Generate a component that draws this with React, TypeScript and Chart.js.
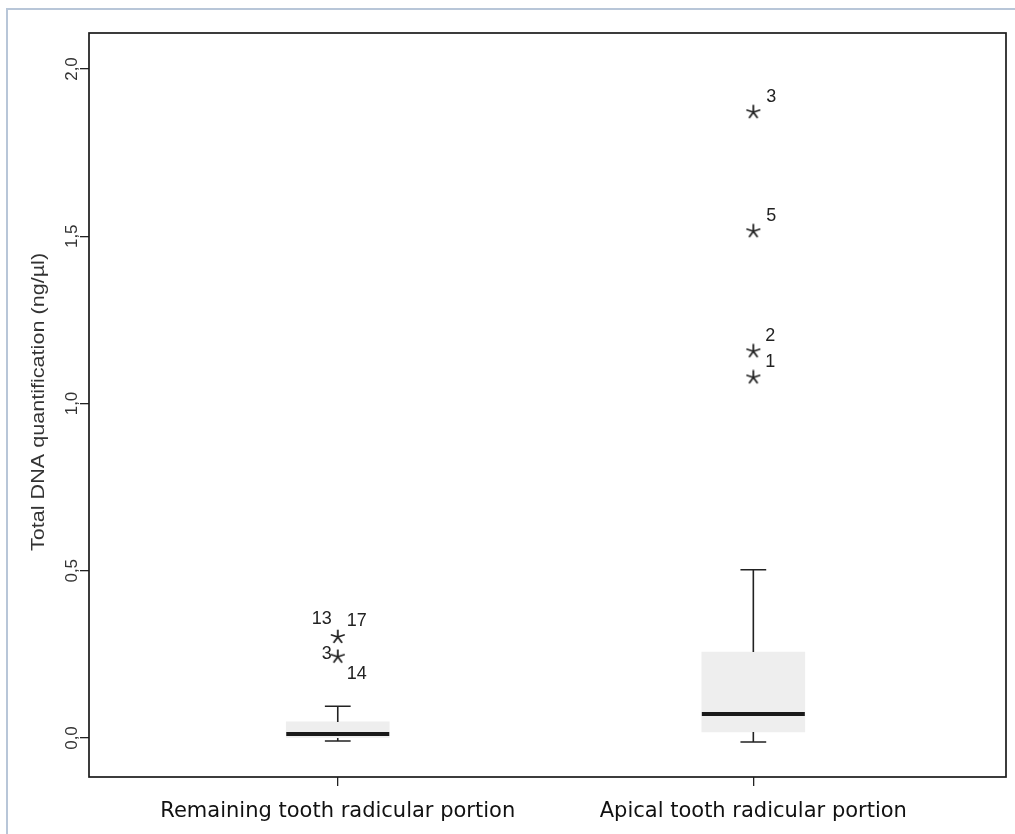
import React, { useEffect, useRef } from "react";
import { Chart, registerables } from "chart.js";
Chart.register(...registerables);

// ---- data ----
const categories = ["Remaining tooth radicular portion", "Apical tooth radicular portion"];
const categoryPositions = [1, 2];
const whiskerLow = [-0.009, -0.012];
const boxQ1 = [0.0, 0.018];
const boxMedian = [0.012, 0.072];
const boxQ3 = [0.048, 0.257];
const whiskerHigh = [0.095, 0.503];
const outlierCategory = [1, 1, 2, 2, 2, 2];
const outlierValues = [0.302, 0.243, 1.871, 1.515, 1.156, 1.078];
const outlierCaseLabels = [["13", "17"], ["3", "14"], ["3"], ["5"], ["2"], ["1"]];
const yTickValues = [0, 0.5, 1.0, 1.5, 2.0];
const yTickLabels = ["0,0", "0,5", "1,0", "1,5", "2,0"];
const yAxisTitle = "Total DNA quantification (ng/µl)";

// ---- styling (not data) ----
const X_MIN = 0.4014;
const X_MAX = 2.608;
const Y_MIN = -0.1166;
const Y_MAX = 2.1076;
const CAP_HALF = 0.031;
const LABEL_OFFSETS: number[][][] = [
  [[-16, -18], [19, -16]],
  [[-11, -3], [19, 17]],
  [[18, -15]],
  [[18, -15]],
  [[17, -15]],
  [[17, -15]],
];

function makeAsterisk(): HTMLCanvasElement {
  const c = document.createElement("canvas");
  c.width = 16;
  c.height = 16;
  const g = c.getContext("2d")!;
  g.strokeStyle = "#222";
  g.lineWidth = 1.8;
  g.lineCap = "round";
  for (let k = 0; k < 5; k++) {
    const a = (-90 + k * 72) * Math.PI / 180;
    g.beginPath();
    g.moveTo(8, 8);
    g.lineTo(8 + 6.5 * Math.cos(a), 8 + 6.5 * Math.sin(a));
    g.stroke();
  }
  return c;
}

const boxPlugin = {
  id: "boxExtras",
  afterDatasetsDraw(chart: any) {
    const ctx = chart.ctx;
    const xs = chart.scales.x;
    const ys = chart.scales.y;
    const meta = chart.getDatasetMeta(0);
    ctx.save();
    categoryPositions.forEach((c, i) => {
      const cx = xs.getPixelForValue(c);
      const bar = meta.data[i];
      const half = bar ? bar.width / 2 : 50;
      const cap = xs.getPixelForValue(c + CAP_HALF) - cx;
      const yHi = ys.getPixelForValue(whiskerHigh[i]);
      const yQ3 = ys.getPixelForValue(boxQ3[i]);
      const yQ1 = ys.getPixelForValue(boxQ1[i]);
      const yLo = ys.getPixelForValue(whiskerLow[i]);
      const yMed = ys.getPixelForValue(boxMedian[i]);
      ctx.strokeStyle = "#222";
      ctx.lineWidth = 1.6;
      ctx.beginPath();
      ctx.moveTo(cx, yQ3);
      ctx.lineTo(cx, yHi);
      ctx.moveTo(cx - cap, yHi);
      ctx.lineTo(cx + cap, yHi);
      ctx.moveTo(cx, yQ1);
      ctx.lineTo(cx, yLo);
      ctx.moveTo(cx - cap, yLo);
      ctx.lineTo(cx + cap, yLo);
      ctx.stroke();
      ctx.lineWidth = 4;
      ctx.strokeStyle = "#1a1a1a";
      ctx.beginPath();
      ctx.moveTo(cx - half, yMed);
      ctx.lineTo(cx + half, yMed);
      ctx.stroke();
    });
    // outlier case labels
    ctx.fillStyle = "#222";
    ctx.font = "18px 'Liberation Sans', Arial, sans-serif";
    ctx.textAlign = "center";
    ctx.textBaseline = "middle";
    outlierValues.forEach((v, i) => {
      const px = xs.getPixelForValue(outlierCategory[i]);
      const py = ys.getPixelForValue(v);
      outlierCaseLabels[i].forEach((lab, j) => {
        const off = LABEL_OFFSETS[i][j];
        ctx.fillText(lab, px + off[0], py + off[1]);
      });
    });
    ctx.restore();
  },
  afterDraw(chart: any) {
    const ctx = chart.ctx;
    const a = chart.chartArea;
    const ys = chart.scales.y;
    ctx.save();
    ctx.strokeStyle = "#1a1a1a";
    ctx.lineWidth = 1.7;
    ctx.strokeRect(a.left, a.top, a.right - a.left, a.bottom - a.top);
    // y tick labels (rotated)
    ctx.fillStyle = "#333";
    ctx.font = "17px 'Liberation Sans', Arial, sans-serif";
    ctx.textAlign = "center";
    ctx.textBaseline = "middle";
    yTickValues.forEach((v, i) => {
      const py = ys.getPixelForValue(v);
      ctx.save();
      ctx.translate(a.left - 17, py);
      ctx.rotate(-Math.PI / 2);
      ctx.fillText(yTickLabels[i], 0, 0);
      ctx.restore();
    });
    // y axis title (rotated, slightly stretched like the scan)
    ctx.font = "18px 'Liberation Sans', Arial, sans-serif";
    ctx.save();
    ctx.translate(a.left - 50, (a.top + a.bottom) / 2 - 3);
    ctx.rotate(-Math.PI / 2);
    ctx.scale(1.2, 1);
    ctx.fillText(yAxisTitle, 0, 0);
    ctx.restore();
    ctx.restore();
  },
};

export default function App() {
  const ref = useRef<HTMLCanvasElement | null>(null);
  useEffect(() => {
    if (!ref.current) return;
    const star = makeAsterisk();
    const chart = new Chart(ref.current, {
      type: "scatter",
      data: {
        datasets: [
          {
            type: "bar",
            data: categoryPositions.map((c, i) => ({ x: c, y: [boxQ1[i], boxQ3[i]] })) as any,
            backgroundColor: "#eeeeee",
            borderWidth: 0,
            barThickness: 103,
          } as any,
          {
            type: "scatter",
            data: outlierValues.map((v, i) => ({ x: outlierCategory[i], y: v })),
            pointStyle: star as any,
            pointRadius: 8,
          } as any,
        ],
      },
      options: {
        responsive: false,
        animation: false,
        layout: { padding: { top: 33, right: 8, left: 0, bottom: 0 } },
        plugins: { legend: { display: false }, tooltip: { enabled: false } },
        scales: {
          x: {
            type: "linear",
            min: X_MIN,
            max: X_MAX,
            offset: false,
            afterBuildTicks: (s: any) => {
              s.ticks = categoryPositions.map((v) => ({ value: v }));
            },
            afterFit: (s: any) => {
              s.height = 57;
            },
            ticks: {
              autoSkip: false,
              maxRotation: 0,
              minRotation: 0,
              padding: 13,
              color: "#111",
              font: { family: "'DejaVu Sans', sans-serif", size: 21 },
              callback: (_v: any, idx: number) => categories[idx],
            },
            grid: {
              offset: false,
              drawOnChartArea: false,
              drawTicks: true,
              tickLength: 9,
              color: "#222",
              lineWidth: 1.3,
            },
            border: { display: false },
          } as any,
          y: {
            type: "linear",
            min: Y_MIN,
            max: Y_MAX,
            afterBuildTicks: (s: any) => {
              s.ticks = yTickValues.map((v) => ({ value: v }));
            },
            afterFit: (s: any) => {
              s.width = 89;
            },
            ticks: { display: false },
            grid: {
              drawOnChartArea: false,
              drawTicks: true,
              tickLength: 9,
              color: "#222",
              lineWidth: 1.3,
            },
            border: { display: false },
            title: { display: false },
          } as any,
        },
      },
      plugins: [boxPlugin],
    });
    return () => chart.destroy();
  }, []);

  return (
    <div style={{ position: "absolute", left: 0, top: 0, width: 1015, height: 834, overflow: "hidden", background: "#fff" }}>
      <div
        style={{
          position: "absolute",
          left: 6,
          top: 8,
          width: 1100,
          height: 900,
          borderTop: "2px solid #b8c6d8",
          borderLeft: "2px solid #b8c6d8",
        }}
      />
      <canvas ref={ref} width={1015} height={834} style={{ position: "absolute", left: 0, top: 0 }} />
    </div>
  );
}
